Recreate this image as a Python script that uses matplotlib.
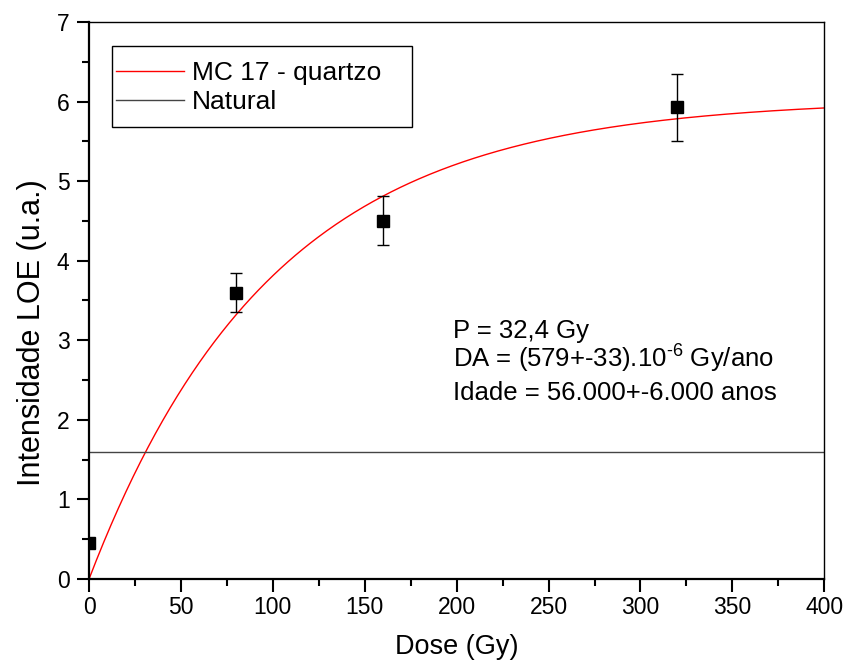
import numpy as np
import matplotlib
matplotlib.use("Agg")
import matplotlib.pyplot as plt
from matplotlib.ticker import MultipleLocator
from matplotlib.patches import Rectangle

plt.rcParams['font.family'] = ['Liberation Sans', 'DejaVu Sans']

# Measured luminescence vs. added dose
dose = [0, 80, 160, 320]
intensity = [0.45, 3.60, 4.50, 5.93]
err_low = [0.0, 0.25, 0.30, 0.42]
err_high = [0.0, 0.25, 0.31, 0.41]

# Saturating-exponential growth fit: I = A * (1 - exp(-D / D0))
fit_A = 6.03
fit_D0 = 100.0
natural_level = 1.60

fig = plt.figure(figsize=(8.48, 6.66), dpi=100)
ax = fig.add_axes([0.105, 0.1306, 0.867, 0.8364])

xs = np.linspace(0, 400, 400)
ax.plot(xs, fit_A * (1 - np.exp(-xs / fit_D0)), color='red', lw=1.0,
        label='MC 17 - quartzo')
ax.axhline(natural_level, color='#444444', lw=1.0, label='Natural')
ax.errorbar(dose, intensity, yerr=[err_low, err_high], fmt='s', color='black',
            ms=8, ecolor='black', elinewidth=1.0, capsize=4.3, capthick=1.0,
            zorder=3)

ax.set_xlim(0, 400)
ax.set_ylim(0, 7)
ax.xaxis.set_major_locator(MultipleLocator(50))
ax.xaxis.set_minor_locator(MultipleLocator(25))
ax.yaxis.set_major_locator(MultipleLocator(1))
ax.yaxis.set_minor_locator(MultipleLocator(0.5))
ax.tick_params(which='both', direction='out', labelsize=16.5, width=1.5,
               top=False, right=False)
ax.tick_params(which='major', length=9)
ax.tick_params(axis='x', which='major', pad=3)
ax.tick_params(axis='y', which='major', pad=5)
ax.tick_params(which='minor', length=5)
for side in ('left', 'bottom'):
    ax.spines[side].set_linewidth(1.6)
for side in ('top', 'right'):
    ax.spines[side].set_linewidth(1.0)

ax.set_xlabel('Dose (Gy)', fontsize=19.5, labelpad=11)
ax.set_ylabel('Intensidade LOE (u.a.)', fontsize=22)
ax.yaxis.set_label_coords(-0.057, 0.4417)

# Legend entries without frame, with a plain rectangular box around them
leg = ax.legend(loc='upper left', bbox_to_anchor=(0.036, 0.930), fontsize=19,
                frameon=False, handlelength=2.6, handletextpad=0.3,
                labelspacing=0.2, borderpad=0, borderaxespad=0)
ax.add_patch(Rectangle((0.0313, 0.8115), 0.4082, 0.1455, transform=ax.transAxes,
                       fill=False, edgecolor='black', lw=1.0, zorder=4))

ax.text(453, 328, 'P = 32,4 Gy', transform=None, fontsize=18.5, va='baseline')
ax.text(453, 299, 'DA = (579+-33).10$^{\\mathregular{\u20106}}$ Gy/ano',
        transform=None, fontsize=18.5, va='baseline')
ax.text(453, 266, 'Idade = 56.000+-6.000 anos', transform=None,
        fontsize=18.5, va='baseline')

fig.savefig('out.png', dpi=100)
